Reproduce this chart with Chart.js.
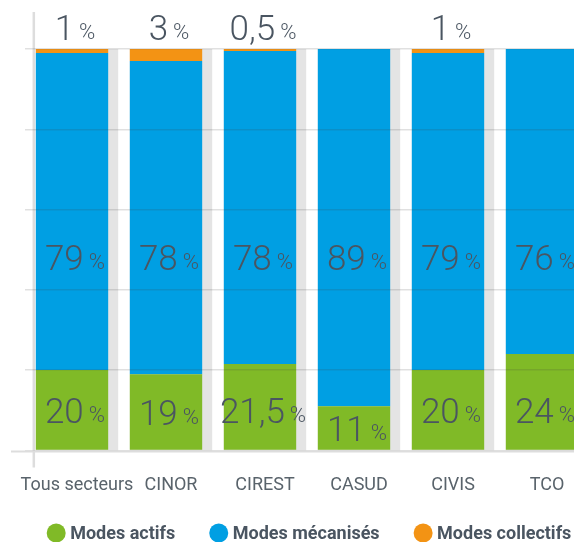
<!DOCTYPE html>
<html lang="fr">
<head>
  <meta charset="UTF-8" />
  <title>Parts modales par secteur</title>
  <script src="https://cdn.jsdelivr.net/npm/chart.js"></script>
  <style>
    html, body { margin: 0; padding: 0; background: #fff; overflow: hidden; }
    .wrap { width: 600px; height: 542px; }
  </style>
</head>
<body>
  <div class="wrap"><canvas id="parts"></canvas></div>

  <script>
    // données (en %)
    const secteurs = ['Tous secteurs', 'CINOR', 'CIREST', 'CASUD', 'CIVIS', 'TCO'];
    const modesActifs = [20, 19, 21.5, 11, 20, 24];
    const modesMecanises = [79, 78, 78, 89, 79, 76];
    const modesCollectifs = [1, 3, 0.5, 0, 1, 0];
    const yTicks = [0, 20, 40, 60, 80, 100];

    const TEXTE = '#4a5561';
    const VERT = '#80ba27';
    const BLEU = '#009fe3';
    const ORANGE = '#f39314';

    const fmt = v => String(v).replace('.', ',');

    // gros chiffre + petit "%", centré sur (x, y)
    function drawValue(ctx, x, y, v) {
      const num = fmt(v);
      ctx.font = '300 35px Roboto';
      const wn = ctx.measureText(num).width;
      ctx.font = '300 22px Roboto';
      const wp = ctx.measureText('%').width;
      const gap = 5;
      const left = x - (wn + gap + wp) / 2;
      const base = y + 12.5;
      ctx.fillStyle = TEXTE;
      ctx.textAlign = 'left';
      ctx.textBaseline = 'alphabetic';
      ctx.font = '300 35px Roboto';
      ctx.fillText(num, left, base);
      ctx.font = '300 22px Roboto';
      ctx.fillText('%', left + wn + gap, base - 1);
    }

    const habillage = {
      id: 'habillage',
      beforeDatasetsDraw(chart) {
        const { ctx, chartArea, scales: { y } } = chart;
        const bars = chart.getDatasetMeta(0).data;
        ctx.save();
        // colonnes grises derrière les barres
        ctx.fillStyle = '#e4e4e4';
        const top = y.getPixelForValue(100);
        const bottom = y.getPixelForValue(0);
        bars.forEach(b => {
          ctx.fillRect(b.x - b.width / 2, top, b.width + 10, bottom - top);
        });
        // trait vertical à gauche
        const xAxe = bars[0].x - bars[0].width / 2 - 2;
        ctx.strokeStyle = '#dddddd';
        ctx.lineWidth = 2.5;
        ctx.beginPath();
        ctx.moveTo(xAxe, chartArea.top - 37);
        ctx.lineTo(xAxe, chartArea.bottom + 17);
        ctx.stroke();
        ctx.restore();
      },
      afterDraw(chart) {
        const { ctx, chartArea, scales: { y } } = chart;
        const bars = chart.getDatasetMeta(0).data;
        ctx.save();
        // ligne de base
        ctx.strokeStyle = '#dddddd';
        ctx.lineWidth = 2;
        ctx.beginPath();
        ctx.moveTo(chartArea.left - 14, y.getPixelForValue(0) + 1);
        ctx.lineTo(chartArea.right, y.getPixelForValue(0) + 1);
        ctx.stroke();

        // valeurs
        bars.forEach((b, i) => {
          const cx = b.x + 3;
          const yActif = Math.max(y.getPixelForValue(modesActifs[i] / 2), y.getPixelForValue(10));
          drawValue(ctx, cx, yActif, modesActifs[i]);
          drawValue(ctx, cx, y.getPixelForValue(48), modesMecanises[i]);
          if (modesCollectifs[i] > 0) drawValue(ctx, cx, chartArea.top - 22, modesCollectifs[i]);
        });

        // légende
        const items = chart.data.datasets.map(ds => ({ text: ds.label, color: ds.backgroundColor }));
        const r = 9.5, gapTexte = 14, gapItem = 34;
        ctx.font = 'bold 18px Roboto';
        const widths = items.map(it => r + gapTexte + ctx.measureText(it.text).width);
        const total = widths.reduce((a, w) => a + w, 0) + gapItem * (items.length - 1);
        let cursor = (chartArea.left + chartArea.right) / 2 + 2 - total / 2;
        const ly = chart.height - 9;
        items.forEach((it, i) => {
          ctx.fillStyle = it.color;
          ctx.beginPath();
          ctx.arc(cursor + r, ly, r, 0, Math.PI * 2);
          ctx.fill();
          ctx.fillStyle = TEXTE;
          ctx.textAlign = 'left';
          ctx.textBaseline = 'middle';
          ctx.fillText(it.text, cursor + r + gapTexte, ly + 1);
          cursor += widths[i] + gapItem;
        });
        ctx.restore();
      }
    };

    Chart.defaults.font.family = 'Roboto';

    new Chart(document.getElementById('parts'), {
      type: 'bar',
      data: {
        labels: secteurs,
        datasets: [
          { label: 'Modes actifs', data: modesActifs, backgroundColor: VERT },
          { label: 'Modes mécanisés', data: modesMecanises, backgroundColor: BLEU },
          { label: 'Modes collectifs', data: modesCollectifs, backgroundColor: ORANGE }
        ]
      },
      options: {
        responsive: true,
        maintainAspectRatio: false,
        animation: false,
        layout: { padding: { left: 25, right: 11, top: 49, bottom: 22 } },
        datasets: { bar: { categoryPercentage: 1, barPercentage: 0.77, borderWidth: 0 } },
        scales: {
          x: {
            stacked: true,
            grid: { display: false, drawTicks: false },
            border: { display: false },
            ticks: { color: '#59636b', font: { size: 18 }, padding: 24, labelOffset: 5, maxRotation: 0, autoSkip: false },
            afterFit: s => { s.paddingLeft = 0; s.paddingRight = 0; }
          },
          y: {
            stacked: true,
            min: 0,
            max: 100,
            afterBuildTicks: axis => { axis.ticks = yTicks.map(v => ({ value: v })); },
            afterFit: s => { s.width = 0; },
            ticks: { display: false },
            border: { display: false },
            grid: { color: 'rgba(60,60,60,0.16)', lineWidth: 1.5, drawTicks: false, z: 1 }
          }
        },
        plugins: {
          legend: { display: false },
          tooltip: { enabled: false }
        }
      },
      plugins: [habillage]
    });
  </script>
</body>
</html>
